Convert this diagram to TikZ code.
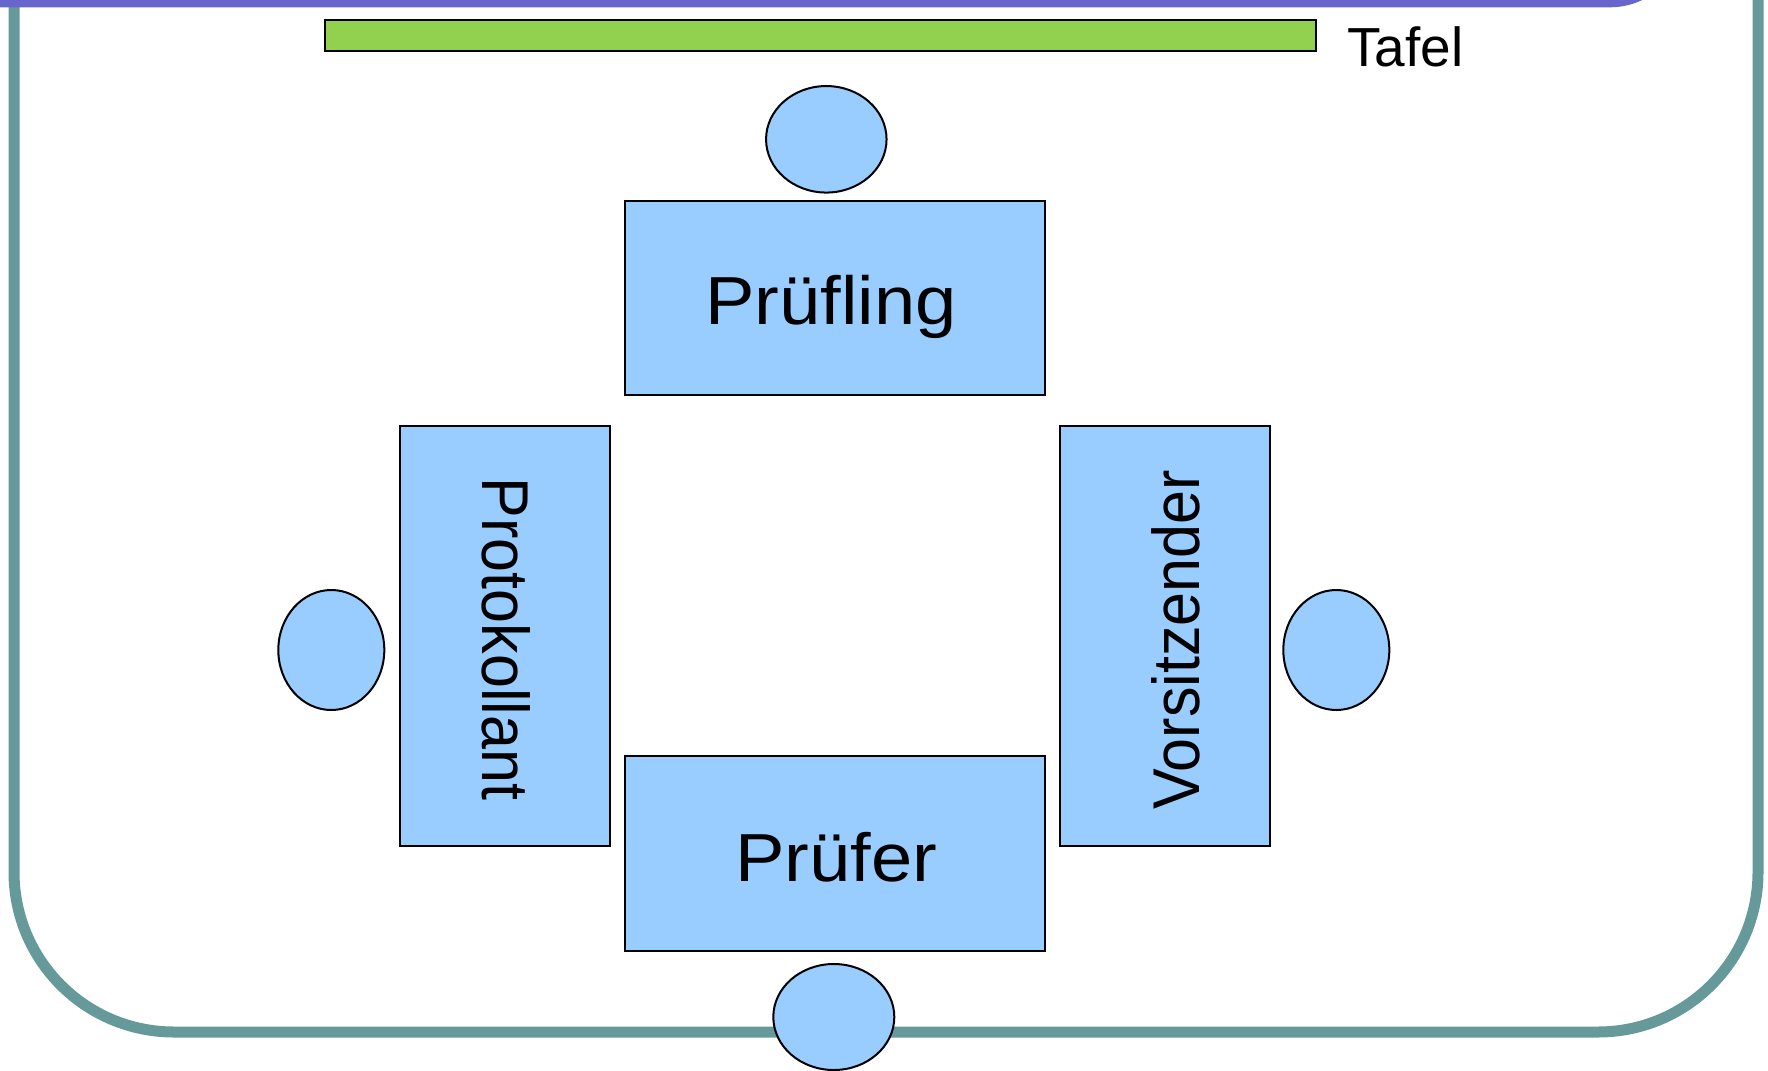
\documentclass[tikz,border=0pt]{standalone}
\usepackage{fontspec}
\setmainfont{Liberation Sans}
\usetikzlibrary{shapes.geometric}
\definecolor{frameteal}{RGB}{102,153,153}
\definecolor{bandpurple}{RGB}{102,102,204}
\definecolor{deskblue}{RGB}{153,204,255}
\definecolor{boardgreen}{RGB}{146,208,80}
\tikzset{
  desk/.style={draw=black, line width=2pt, fill=deskblue, inner sep=0pt},
  seat/.style={ellipse, draw=black, line width=2pt, fill=deskblue, inner sep=0pt},
  bigtxt/.style={inner sep=0pt, xscale=1.09, font=\fontsize{68}{80}\selectfont},
  sidetxt/.style={inner sep=0pt, font=\fontsize{61}{72}\selectfont},
}
\begin{document}
\begin{tikzpicture}[x=1pt,y=-1pt]
\path[use as bounding box] (0,0) rectangle (1768,1070);
\clip (0,0) rectangle (1768,1070);
\fill[white] (0,0) rectangle (1768,1070);
% frame
\draw[frameteal, line width=11pt, rounded corners=160pt] (14,-30) -- (14,1032) -- (1758,1032) -- (1758,-30);
% top band
\fill[bandpurple, rounded corners=75pt] (-100,-150) -- (1685,-150) -- (1685,7.3) -- (-100,7.3) -- cycle;
% board
\node[draw=black, line width=2pt, fill=boardgreen, inner sep=0pt, minimum width=991pt, minimum height=30.5pt, anchor=north west] (tafel) at (323.5,19.5) {};
\node[inner sep=0pt, anchor=base west, font=\fontsize{55}{66}\selectfont] (tafeltxt) at (1347,67) {Tafel};
% desks
\node[desk, minimum width=420.5pt, minimum height=194pt, anchor=north west] (pruefling) at (623.5,200) {};
\node[desk, minimum width=420.5pt, minimum height=195pt, anchor=north west] (pruefer) at (623.5,754.5) {};
\node[desk, minimum width=210pt, minimum height=420pt, anchor=north west] (protokoll) at (398.7,424.5) {};
\node[desk, minimum width=210pt, minimum height=420pt, anchor=north west] (vorsitz) at (1058.7,424.5) {};
% texts
\node[bigtxt, anchor=base] (t1) at (831,324) {Prüfling};
\node[bigtxt, anchor=base] (t2) at (836,881) {Prüfer};
\node[sidetxt, rotate=-90, yscale=1.085] (t3) at (506,639) {Protokollant};
\node[sidetxt, rotate=90, yscale=1.085] (t4) at (1176,640) {Vorsitzender};
% seats
\node[seat, minimum width=120.5pt, minimum height=106.5pt] (s1) at (826.3,139.3) {};
\node[seat, minimum width=106pt, minimum height=120pt] (s2) at (331.3,650) {};
\node[seat, minimum width=106pt, minimum height=120pt] (s3) at (1336.3,650) {};
\node[seat, minimum width=121pt, minimum height=106pt] (s4) at (833.8,1017) {};
\end{tikzpicture}
\end{document}
